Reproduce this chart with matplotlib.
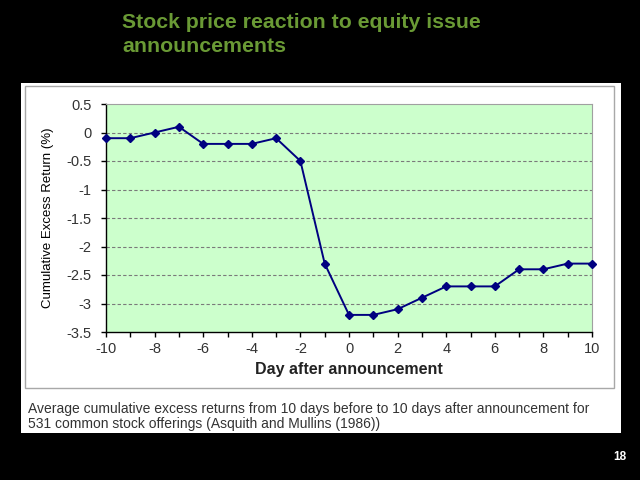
"""Stock price reaction to equity issue announcements (Asquith and Mullins 1986)."""
import matplotlib.pyplot as plt
from matplotlib.patches import Rectangle
from matplotlib.ticker import MultipleLocator

# Day relative to announcement and cumulative excess return (%)
days = [-10, -9, -8, -7, -6, -5, -4, -3, -2, -1, 0, 1, 2, 3, 4, 5, 6, 7, 8, 9, 10]
car = [-0.1, -0.1, 0.0, 0.1, -0.2, -0.2, -0.2, -0.1, -0.5, -2.3, -3.2,
       -3.2, -3.1, -2.9, -2.7, -2.7, -2.7, -2.4, -2.4, -2.3, -2.3]

title_lines = ["Stock price reaction to equity issue", "announcements"]
caption_lines = [
    "Average cumulative excess returns from 10 days before to 10 days after announcement for",
    "531 common stock offerings (Asquith and Mullins (1986))",
]
page_no = "18"

plt.rcParams['font.family'] = ['Liberation Sans', 'DejaVu Sans']

W, H = 640, 480
fig = plt.figure(figsize=(6.4, 4.8), dpi=100, facecolor='black')

# white slide panel and the chart frame (behind the axes)
fig.patches.append(Rectangle((21 / W, 1 - 433 / H), 600 / W, 350 / H,
                             transform=fig.transFigure, facecolor='white',
                             edgecolor='none', zorder=-2))
fig.patches.append(Rectangle((25 / W, 1 - 388 / H), 589 / W, 302 / H,
                             transform=fig.transFigure, facecolor='white',
                             edgecolor='#a8a8a8', linewidth=1, zorder=-1))

ax = fig.add_axes([106 / W, 1 - 332 / H, 486 / W, 228 / H])
ax.set_facecolor('#ccffcc')
ax.plot(days, car, color='#000080', linewidth=1.4, marker='D',
        markersize=4.5, zorder=3, clip_on=False)

ax.set_xlim(-10, 10)
ax.set_ylim(-3.5, 0.5)
ax.xaxis.set_major_locator(MultipleLocator(2))
ax.xaxis.set_minor_locator(MultipleLocator(1))
ax.yaxis.set_major_locator(MultipleLocator(0.5))
ax.yaxis.set_major_formatter(plt.FuncFormatter(lambda v, p: f"{v:g}"))
ax.xaxis.set_major_formatter(plt.FuncFormatter(lambda v, p: f"{v:g}"))

for yv in [0, -0.5, -1, -1.5, -2, -2.5, -3]:
    ax.axhline(yv, color='#7a7a7a', linewidth=0.8, linestyle=(0, (3, 2)), zorder=1)

ax.tick_params(axis='both', which='both', direction='out', length=3.5,
               width=1, color='black', labelsize=10.5, labelcolor='#333333')
ax.tick_params(axis='y', pad=7)
ax.tick_params(axis='x', pad=4)
for side in ['top', 'right']:
    ax.spines[side].set_color('#a0a0a0')
    ax.spines[side].set_linewidth(0.8)
for side in ['left', 'bottom']:
    ax.spines[side].set_color('black')
    ax.spines[side].set_linewidth(1)

ax.set_ylabel('Cumulative Excess Return (%)', fontsize=9.5, color='black', labelpad=9)
ax.set_xlabel('Day after announcement', fontsize=11.5, fontweight='bold',
              color='#222222', labelpad=4)

# slide title
for i, line in enumerate(title_lines):
    fig.text(122 / W, 1 - (22 + 24 * i) / H, line, fontsize=15.3,
             fontweight='bold', color='#6a9a35', va='center', ha='left')

# caption below the chart
for i, line in enumerate(caption_lines):
    fig.text(28 / W, 1 - (409 + 15 * i) / H, line, fontsize=10,
             color='#333333', va='center', ha='left')

fig.text(620 / W, 1 - 457 / H, page_no, fontsize=8.5, fontweight='bold',
         color='white', va='center', ha='center')

fig.savefig('out.png', dpi=100, facecolor=fig.get_facecolor())
